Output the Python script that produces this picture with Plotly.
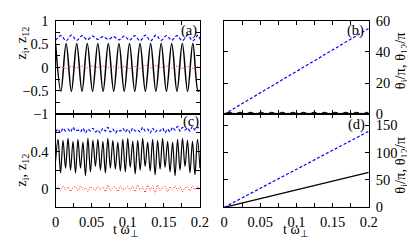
import plotly.graph_objects as go

# ---------------- data ----------------
# panel (a): extrema times / values
t_a = [0, 0.0073, 0.0146, 0.0219, 0.0293, 0.0366, 0.0439, 0.0512, 0.0585, 0.0658,
       0.0731, 0.0805, 0.0878, 0.0951, 0.1024, 0.1097, 0.1170, 0.1244, 0.1317, 0.1390,
       0.1463, 0.1536, 0.1609, 0.1682, 0.1756, 0.1829, 0.1902, 0.1975, 0.2]
z1_a = [0.51, -0.51, 0.51, -0.51, 0.51, -0.51, 0.51, -0.51, 0.51, -0.51,
        0.51, -0.51, 0.51, -0.51, 0.51, -0.51, 0.51, -0.51, 0.51, -0.51,
        0.51, -0.51, 0.51, -0.51, 0.51, -0.51, 0.51, -0.51, -0.48]
z12_a = [0.58, 0.68, 0.57, 0.69, 0.58, 0.68, 0.59, 0.67, 0.60, 0.66,
         0.60, 0.66, 0.59, 0.67, 0.58, 0.68, 0.57, 0.69, 0.57, 0.69,
         0.58, 0.68, 0.58, 0.68, 0.57, 0.69, 0.57, 0.69, 0.60]
z2_a = [-0.02, 0.01, -0.02, 0.02, -0.01, 0.03, -0.01, 0.03, 0.0, 0.03,
        0.0, 0.02, -0.01, 0.02, -0.02, 0.02, -0.02, 0.05, -0.01, 0.04,
        0.0, 0.03, -0.01, 0.03, -0.02, 0.02, -0.02, 0.02, 0.0]

# panel (b)
t_b_lin = [0, 0.2]
th12_b = [0, 55]
th1_b = [0, 1.3, 0, 1.3, 0, 1.3, 0, 1.3, 0, 1.3,
         0, 1.3, 0, 1.3, 0, 1.3, 0, 1.3, 0, 1.3,
         0, 1.3, 0, 1.3, 0, 1.3, 0, 1.3, 0.4]
th2_b = [0.6, 0, 0.8, 0, 0.8, 0, 0.8, 0, 0.8, 0,
         0.8, 0, 0.8, 0, 0.8, 0, 0.8, 0, 0.8, 0,
         0.8, 0, 0.8, 0, 0.8, 0, 0.8, 0, 0.6]

# panel (c): extrema times / values
t_c = [0, 0.0034, 0.0069, 0.0103, 0.0138, 0.0172, 0.0207, 0.0241, 0.0276, 0.0310,
       0.0345, 0.0379, 0.0414, 0.0448, 0.0483, 0.0517, 0.0552, 0.0586, 0.0621, 0.0655,
       0.0690, 0.0724, 0.0759, 0.0793, 0.0828, 0.0862, 0.0897, 0.0931, 0.0966, 0.1000,
       0.1034, 0.1069, 0.1103, 0.1138, 0.1172, 0.1207, 0.1241, 0.1276, 0.1310, 0.1345,
       0.1379, 0.1414, 0.1448, 0.1483, 0.1517, 0.1552, 0.1586, 0.1621, 0.1655, 0.1690,
       0.1724, 0.1759, 0.1793, 0.1828, 0.1862, 0.1897, 0.1931, 0.1966, 0.2000]
z1_c = [0.30, 0.53, 0.17, 0.52, 0.22, 0.54, 0.20, 0.51, 0.17, 0.53,
        0.22, 0.50, 0.14, 0.54, 0.18, 0.52, 0.24, 0.53, 0.20, 0.51,
        0.17, 0.54, 0.22, 0.52, 0.21, 0.50, 0.19, 0.53, 0.18, 0.54,
        0.23, 0.51, 0.16, 0.52, 0.20, 0.54, 0.24, 0.50, 0.19, 0.53,
        0.15, 0.52, 0.21, 0.54, 0.23, 0.51, 0.18, 0.50, 0.14, 0.53,
        0.20, 0.54, 0.24, 0.52, 0.17, 0.51, 0.15, 0.53, 0.22]
z12_c = [0.61, 0.64, 0.60, 0.65, 0.62, 0.64, 0.61, 0.66, 0.62, 0.63,
         0.61, 0.65, 0.60, 0.64, 0.62, 0.65, 0.61, 0.63, 0.60, 0.65,
         0.62, 0.66, 0.61, 0.64, 0.60, 0.63, 0.62, 0.65, 0.61, 0.64,
         0.60, 0.65, 0.62, 0.63, 0.61, 0.66, 0.62, 0.64, 0.60, 0.65,
         0.61, 0.63, 0.62, 0.65, 0.60, 0.64, 0.61, 0.66, 0.63, 0.67,
         0.62, 0.66, 0.63, 0.65, 0.62, 0.67, 0.63, 0.66, 0.64]
z2_c = [0.0, 0.02, -0.02, 0.03, -0.01, 0.02, -0.03, 0.01, 0.02, -0.02,
        0.03, -0.01, 0.01, -0.03, 0.02, 0.0, -0.02, 0.03, -0.01, 0.02,
        -0.03, 0.04, -0.02, 0.01, 0.02, -0.03, 0.03, -0.01, 0.0, 0.02,
        -0.02, 0.03, -0.03, 0.04, -0.01, 0.02, -0.04, 0.05, -0.02, 0.03,
        -0.05, 0.04, -0.02, 0.01, 0.03, -0.03, 0.02, -0.01, 0.03, -0.02,
        0.02, -0.03, 0.01, 0.02, -0.02, 0.03, -0.01, 0.02, 0.0]

# panel (d)
t_d = [0, 0.2]
th12_d = [0, 139]
th1_d = [0, 64]
th2_d = [0, 0]

x_ticks = [0, 0.05, 0.1, 0.15, 0.2]

# ---------------- figure ----------------
W, H = 415, 240
FONT = "Liberation Serif, Times New Roman, Times, serif"
BLUE = "#0000ff"
RED = "#ff2020"
BLACK = "#000000"
FS = 14.5

fig = go.Figure()

def black(x, y, xa, ya, w=1.4):
    fig.add_trace(go.Scatter(x=x, y=y, xaxis=xa, yaxis=ya, mode="lines",
                             line=dict(color=BLACK, width=w, shape="spline"), showlegend=False))

def blue(x, y, xa, ya):
    fig.add_trace(go.Scatter(x=x, y=y, xaxis=xa, yaxis=ya, mode="lines",
                             line=dict(color=BLUE, width=1.2, dash="3px,2px", shape="spline"),
                             showlegend=False))

def red(x, y, xa, ya):
    fig.add_trace(go.Scatter(x=x, y=y, xaxis=xa, yaxis=ya, mode="lines",
                             line=dict(color=RED, width=1.0, dash="1px,1.5px", shape="spline"),
                             showlegend=False))

# (a)
black(t_a, z1_a, "x", "y", 1.5)
red(t_a, z2_a, "x", "y")
blue(t_a, z12_a, "x", "y")
# (b)
black(t_a, th1_b, "x2", "y2", 1.2)
red(t_a, th2_b, "x2", "y2")
blue(t_b_lin, th12_b, "x2", "y2")
# (c)
black(t_c, z1_c, "x3", "y3", 1.2)
red(t_c, z2_c, "x3", "y3")
blue(t_c, z12_c, "x3", "y3")
# (d)
red(t_d, th2_d, "x4", "y4")
black(t_d, th1_d, "x4", "y4", 1.2)
blue(t_d, th12_d, "x4", "y4")

xl = [45 / W, 194 / W]
xr = [219 / W, 368.3 / W]
yt = [1 - 105.3 / H, 1 - 5 / H]
yb = [1 - 205 / H, 1 - 105.3 / H]

tickfont = dict(family=FONT, size=FS, color=BLACK)

def xax(domain, anchor, labels):
    return dict(domain=domain, anchor=anchor, range=[0, 0.2], tickvals=x_ticks,
                showticklabels=labels, ticks="inside", ticklen=4, tickcolor=BLACK,
                minor=dict(dtick=0.025, tick0=0, ticks="inside", ticklen=4, tickcolor=BLACK),
                showline=True, linecolor=BLACK, linewidth=1.2, mirror="ticks",
                showgrid=False, zeroline=False, tickfont=tickfont, ticklabelstandoff=1,
                ticklabeloverflow="allow")

def yax(domain, anchor, rng, tickvals, side="left", minor=None):
    d = dict(domain=domain, anchor=anchor, range=rng, tickvals=tickvals, side=side,
             ticks="inside", ticklen=4, tickcolor=BLACK,
             showline=True, linecolor=BLACK, linewidth=1.2, mirror="ticks",
             showgrid=False, zeroline=False, tickfont=tickfont, ticklabeloverflow="allow",
             ticklabelstandoff=3)
    if minor is not None:
        d["minor"] = dict(tickvals=minor, ticks="inside", ticklen=4, tickcolor=BLACK)
    return d

fig.update_layout(
    width=W, height=H, margin=dict(l=0, r=0, t=0, b=0),
    paper_bgcolor="white", plot_bgcolor="white",
    font=dict(family=FONT, size=FS, color=BLACK),
    xaxis=xax(xl, "y", False),
    yaxis=yax(yt, "x", [-1, 1], [-1, -0.5, 0, 0.5, 1], "left", [-0.75, -0.25, 0.25, 0.75]),
    xaxis2=xax(xr, "y2", False),
    yaxis2=yax(yt, "x2", [0, 60], [0, 20, 40, 60], "right"),
    xaxis3=xax(xl, "y3", True),
    yaxis3=yax(yb, "x3", [-0.2, 0.8], [0, 0.4], "left", [-0.2, 0.2, 0.6]),
    xaxis4=xax(xr, "y4", True),
    yaxis4=yax(yb, "x4", [0, 170], [0, 50, 100, 150], "right"),
)

def ann(text, px, py, angle=0, size=FS):
    fig.add_annotation(text=text, x=px / W, y=1 - py / H, xref="paper", yref="paper",
                       showarrow=False, textangle=angle, xanchor="center", yanchor="middle",
                       font=dict(family=FONT, size=size, color=BLACK))

ann("(a)", 183, 15)
ann("(b)", 355, 16)
ann("(c)", 185, 113)
ann("(d)", 356, 116)
ann("z<sub>i</sub>, z<sub>12</sub>", 10, 29, -90)
ann("z<sub>i</sub>, z<sub>12</sub>", 10, 165, -90)
ann("θ<sub>i</sub>/π, θ<sub>12</sub>/π", 401, 48, -90)
ann("θ<sub>i</sub>/π, θ<sub>12</sub>/π", 402, 160, -90)
ann("t ω<sub>⊥</sub>", 118, 229.5, 0, 14)
ann("t ω<sub>⊥</sub>", 293, 229.5, 0, 14)

fig.write_html("out.html")
